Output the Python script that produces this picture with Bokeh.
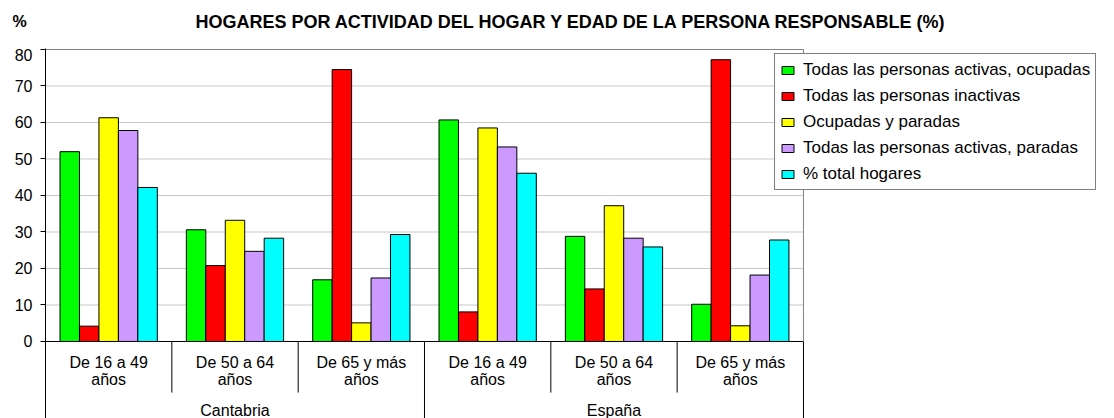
from bokeh.plotting import figure
from bokeh.layouts import column
from bokeh.models import (ColumnDataSource, Range1d, FixedTicker, Legend, LegendItem)
from bokeh.transform import dodge
from bokeh.embed import file_html
from bokeh.resources import INLINE
from bokeh.core.properties import value

# ---------------- data ----------------
regions = ["Cantabria", "España"]
ages = ["De 16 a 49\naños", "De 50 a 64\naños", "De 65 y más\naños"]
series_names = ["Todas las personas activas, ocupadas",
                "Todas las personas inactivas",
                "Ocupadas y paradas",
                "Todas las personas activas, paradas",
                "% total hogares"]
activas_ocupadas = [52.0, 30.6, 16.9, 60.7, 28.8, 10.2]
inactivas = [4.2, 20.8, 74.5, 8.1, 14.4, 77.2]
ocupadas_paradas = [61.3, 33.2, 5.1, 58.5, 37.2, 4.3]
activas_paradas = [57.8, 24.7, 17.4, 53.3, 28.3, 18.2]
total_hogares = [42.2, 28.3, 29.3, 46.1, 25.9, 27.8]
y_ticks = [0, 10, 20, 30, 40, 50, 60, 70, 80]
title_text = "HOGARES POR ACTIVIDAD DEL HOGAR Y EDAD DE LA PERSONA RESPONSABLE (%)"
unit_text = "%"

colors = ["#00ff00", "#ff0000", "#ffff00", "#cc99ff", "#00ffff"]
series_values = [activas_ocupadas, inactivas, ocupadas_paradas, activas_paradas, total_hogares]

FONT = "Liberation Sans"
W = 1114
HEAD_H = 48
MAIN_H = 370
LEFT = 45
N_GROUPS = len(regions) * len(ages)
GROUP_PX = 126.33
X_END = (W - LEFT) / GROUP_PX
Y_TOP = 80.27
Y_BOTTOM = -21.1

# ---------------- header (titles) ----------------
head = figure(width=W, height=HEAD_H, output_backend="svg", toolbar_location=None,
              x_range=Range1d(0, W), y_range=Range1d(HEAD_H, 0),
              x_axis_location=None, y_axis_location=None,
              min_border_left=0, min_border_right=0, min_border_top=0, min_border_bottom=0)
head.frame_align = False
head.outline_line_color = None
head.grid.visible = False
head.text(x=[12], y=[21], text=[unit_text], text_align="left", text_baseline="middle",
          text_font=value(FONT), text_font_size="16px", text_font_style="bold", text_color="black")
head.text(x=[571], y=[21], text=[title_text], text_align="center", text_baseline="middle",
          text_font=value(FONT), text_font_size="18px", text_font_style="bold", text_color="black")

# ---------------- main chart ----------------
p = figure(width=W, height=MAIN_H, output_backend="svg", toolbar_location=None,
           x_range=Range1d(0, X_END), y_range=Range1d(Y_BOTTOM, Y_TOP), x_axis_location=None,
           min_border_left=LEFT, min_border_right=0, min_border_top=0, min_border_bottom=0)
p.frame_align = False
p.outline_line_color = None
p.grid.visible = False

yax = p.yaxis[0]
yax.ticker = FixedTicker(ticks=y_ticks)
yax.minor_tick_line_color = None
yax.major_tick_out = 5
yax.major_tick_in = 0
yax.major_tick_line_color = "black"
yax.axis_line_color = "black"
yax.major_label_text_font = FONT
yax.major_label_text_font_size = "16px"
yax.major_label_text_color = "black"
yax.major_label_standoff = 8

# gridlines (limited to the plot area of the groups)
grid_y = y_ticks[1:-1]
p.segment(x0=[0] * len(grid_y), y0=grid_y, x1=[N_GROUPS] * len(grid_y), y1=grid_y,
          line_color="#c8c8c8", line_width=1)
p.segment(x0=[0], y0=[y_ticks[-1]], x1=[N_GROUPS], y1=[y_ticks[-1]],
          line_color="#808080", line_width=1)

# bars
centers = [i + 0.5 for i in range(N_GROUPS)]
data = {"x": centers}
for k, vals in enumerate(series_values):
    data["s%d" % k] = vals
src = ColumnDataSource(data)
n = len(series_values)
w = 0.154
items = []
for k in range(n):
    r = p.vbar(x=dodge("x", (k - (n - 1) / 2) * w), top="s%d" % k,
               width=w, source=src, fill_color=colors[k], line_color="black", line_width=1)
    items.append(LegendItem(label=series_names[k], renderers=[r]))

# zero line
p.segment(x0=[0], y0=[0], x1=[N_GROUPS], y1=[0], line_color="black", line_width=1)

# separators
na = len(ages)
x0s, y0s, y1s, cols = [], [], [], []
for i in range(1, N_GROUPS + 1):
    x0s.append(i); y0s.append(0)
    y1s.append(Y_BOTTOM if i % na == 0 else -14.0)
    cols.append("black")
x0s.append(N_GROUPS); y0s.append(0); y1s.append(y_ticks[-1]); cols.append("#808080")
p.segment(x0=x0s, y0=y0s, x1=x0s, y1=y1s, line_color=cols, line_width=1)

# category labels
lab = ColumnDataSource({"x": centers,
                        "l1": [a.split("\n")[0] for a in ages] * len(regions),
                        "l2": [a.split("\n")[1] for a in ages] * len(regions)})
p.text(x="x", y=-5.75, text="l1", source=lab, text_align="center", text_baseline="middle",
       text_font=value(FONT), text_font_size="16px", text_color="black")
p.text(x="x", y=-10.4, text="l2", source=lab, text_align="center", text_baseline="middle",
       text_font=value(FONT), text_font_size="16px", text_color="black")
reg = ColumnDataSource({"x": [na * j + na / 2 for j in range(len(regions))], "t": regions})
p.text(x="x", y=-18.9, text="t", source=reg, text_align="center", text_baseline="middle",
       text_font=value(FONT), text_font_size="16px", text_color="black")

# legend
legend = Legend(items=items, location=(729, 228), orientation="vertical",
                label_text_font=FONT, label_text_font_size="17px", label_text_color="black",
                glyph_width=15, glyph_height=10, label_height=21, spacing=5, padding=5,
                label_standoff=8, margin=0, border_line_color="black", border_line_width=1,
                background_fill_color="white", background_fill_alpha=1.0)
p.add_layout(legend, "center")

layout = column(head, p, spacing=0)
open("out.html", "w").write(file_html(layout, INLINE))
